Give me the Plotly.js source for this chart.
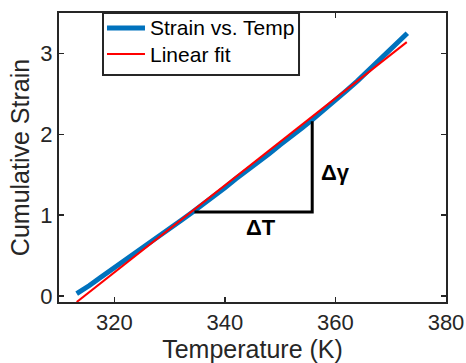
<!DOCTYPE html>
<html>
<head>
<meta charset="utf-8">
<script src="https://cdn.plot.ly/plotly-3.0.1.min.js"></script>
<style>
html,body{margin:0;padding:0;background:#fff;}
#chart{width:466px;height:363px;}
</style>
</head>
<body>
<div id="chart"></div>
<script>
// Measured data: strain vs temperature
const tempK = [313.2, 314.0, 315.5, 317.5, 320.0, 322.0, 324.0, 326.0, 328.0, 330.0,
               332.0, 334.0, 336.0, 338.0, 340.0, 342.0, 344.0, 346.0, 348.0, 350.0,
               352.0, 354.0, 356.0, 358.0, 360.0, 362.0, 364.0, 366.0, 368.0, 370.0,
               372.0, 373.0];
const strain = [0.03, 0.06, 0.13, 0.23, 0.35, 0.45, 0.53, 0.63, 0.73, 0.83,
                0.93, 1.03, 1.13, 1.23, 1.34, 1.45, 1.55, 1.66, 1.76, 1.87,
                1.97, 2.08, 2.19, 2.30, 2.42, 2.54, 2.66, 2.79, 2.91, 3.04,
                3.17, 3.25];
// Linear fit end points
const fitT = [313.2, 372.9];
const fitStrain = [-0.075, 3.14];
// Slope triangle
const triT = [334.5, 355.8, 355.8];
const triStrain = [1.04, 1.04, 2.16];
const xTicks = [320, 340, 360, 380];
const yTicks = [0, 1, 2, 3];
const seriesNames = ['Strain vs. Temp', 'Linear fit'];
const seriesColors = ['#0072BD', '#FF0000'];
const seriesWidths = [5, 2];

const FONT = '"Liberation Sans", Arial, Helvetica, sans-serif';
const AX = '#262626';

const traces = [
  {x: tempK, y: strain, type: 'scatter', mode: 'lines', name: seriesNames[0],
   line: {color: seriesColors[0], width: seriesWidths[0]}},
  {x: fitT, y: fitStrain, type: 'scatter', mode: 'lines', name: seriesNames[1],
   line: {color: seriesColors[1], width: seriesWidths[1]}},
  {x: triT, y: triStrain, type: 'scatter', mode: 'lines', showlegend: false,
   line: {color: '#000000', width: 3}, hoverinfo: 'skip'}
];

// Custom legend (MATLAB style box)
const legRows = [0.9481, 0.8581];
const shapes = [
  {type: 'rect', xref: 'paper', yref: 'paper', x0: 0.1137, x1: 0.6202, y0: 0.7855, y1: 1.0,
   line: {color: AX, width: 2}, fillcolor: '#ffffff', layer: 'above'}
];
const legAnn = [];
seriesNames.forEach((nm, i) => {
  shapes.push({type: 'line', xref: 'paper', yref: 'paper', x0: 0.1240, x1: 0.2222,
               y0: legRows[i], y1: legRows[i],
               line: {color: seriesColors[i], width: seriesWidths[i]}, layer: 'above'});
  legAnn.push({xref: 'paper', yref: 'paper', x: 0.2300, y: legRows[i], xanchor: 'left',
               yanchor: 'middle', text: nm, showarrow: false,
               font: {size: 21, family: FONT, color: '#000'}});
});

const layout = {
  width: 466, height: 363,
  margin: {l: 59, r: 20, t: 13, b: 61},
  paper_bgcolor: '#ffffff', plot_bgcolor: '#ffffff',
  font: {family: FONT, color: AX},
  showlegend: false,
  xaxis: {range: [310, 380], tickvals: xTicks, ticktext: xTicks.map(String),
          ticks: 'inside', ticklen: 5, tickwidth: 1.5, tickcolor: AX,
          showline: true, linecolor: AX, linewidth: 2, mirror: 'ticks',
          showgrid: false, zeroline: false,
          tickfont: {size: 22, family: FONT, color: AX},
          title: {text: 'Temperature (K)', font: {size: 25, family: FONT, color: AX}, standoff: 0}},
  yaxis: {range: [-0.074, 3.5], tickvals: yTicks, ticktext: yTicks.map(String),
          ticks: 'inside', ticklen: 5, tickwidth: 1.5, tickcolor: AX,
          showline: true, linecolor: AX, linewidth: 2, mirror: 'ticks',
          showgrid: false, zeroline: false,
          tickfont: {size: 22, family: FONT, color: AX},
          title: {text: 'Cumulative Strain', font: {size: 25, family: FONT, color: AX}, standoff: 4}},
  shapes: shapes,
  annotations: [
    {x: 346.6, y: 0.85, xref: 'x', yref: 'y', text: '<b>ΔT</b>', showarrow: false,
     font: {size: 22, family: FONT, color: '#000'}},
    {x: 360.1, y: 1.53, xref: 'x', yref: 'y', text: '<b>Δγ</b>', showarrow: false,
     font: {size: 22, family: FONT, color: '#000'}}
  ].concat(legAnn)
};

Plotly.newPlot('chart', traces, layout, {displayModeBar: false, staticPlot: true});
</script>
</body>
</html>
